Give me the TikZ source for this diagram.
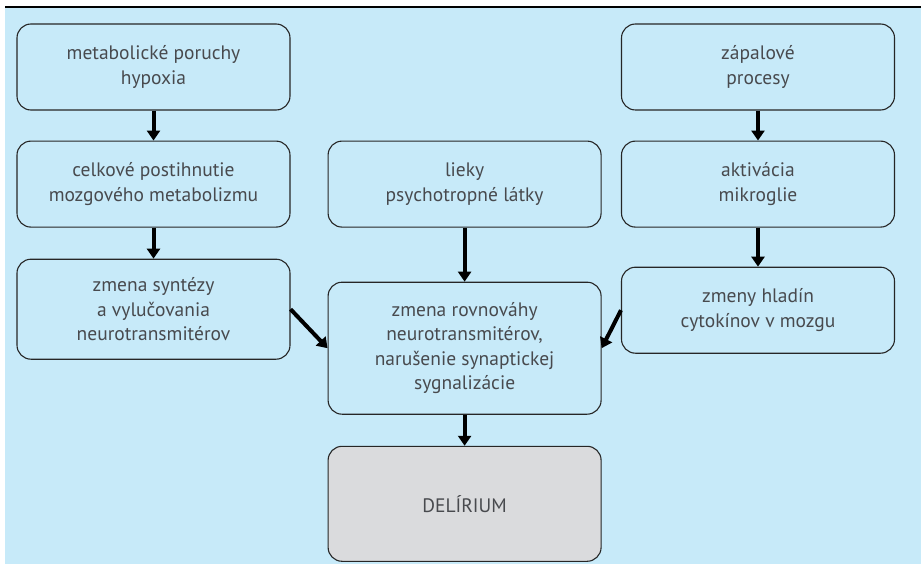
\documentclass[tikz,border=0pt]{standalone}
\usepackage{fontspec}
\setmainfont{PT Sans}
\usetikzlibrary{
  positioning,
  arrows.meta
}
\definecolor{panelblue}{RGB}{199,234,249}
\definecolor{boxgrey}{RGB}{218,219,221}
\definecolor{textgrey}{RGB}{72,74,78}
\tikzset{
  node distance=30pt,
  cause/.style={draw=black!85, line width=1.1pt, rounded corners=14pt,
    fill=panelblue, text=textgrey, align=center, inner sep=0pt,
    minimum width=273pt, minimum height=86pt,
    font=\fontsize{19.5}{24.5}\selectfont},
  outcome/.style={cause, fill=boxgrey, minimum height=115pt},
  flow/.style={-{Triangle[length=10pt,width=13pt]}, line width=4pt, black}
}

\begin{document}
\begin{tikzpicture}
    \useasboundingbox (0,0) rectangle (921pt,-564pt);
    \fill[panelblue] (5pt,-8pt) rectangle (921pt,-564pt);
    \draw[line width=2.2pt] (5pt,-7pt) -- (921pt,-7pt);

    % left column
    \node[cause] (metab) at (153.5pt,-67pt) {metabolické poruchy\\hypoxia};
    \node[cause, below=30pt of metab] (celk) {celkové postihnutie\\mozgového metabolizmu};
    \node[cause, below=31pt of celk, minimum height=100pt] (synt) {zmena syntézy\\a vylučovania\\neurotransmitérov};

    % middle column
    \node[cause, right=37pt of celk] (lieky) {lieky\\psychotropné látky};
    \node[cause, below=54pt of lieky, minimum height=132pt] (rovn) {zmena rovnováhy\\neurotransmitérov,\\narušenie synaptickej\\sygnalizácie};
    \node[outcome, below=31pt of rovn] (delir) {DELÍRIUM};

    % right column
    \node[cause] (zapal) at (758pt,-67pt) {zápalové\\procesy};
    \node[cause, below=30pt of zapal] (mikro) {aktivácia\\mikroglie};
    \node[cause, below=39pt of mikro] (cyto) {zmeny hladín\\cytokínov v mozgu};

    \draw[flow] (metab) -- (celk);
    \draw[flow] (celk) -- (synt);
    \draw[flow] (zapal) -- (mikro);
    \draw[flow] (mikro) -- (cyto);
    \draw[flow] (lieky) -- (rovn);
    \draw[flow] (synt.east) -- (rovn.west);
    \draw[flow] (cyto.west) -- (rovn.east);
    \draw[flow] (rovn) -- (delir);
\end{tikzpicture}
\end{document}
